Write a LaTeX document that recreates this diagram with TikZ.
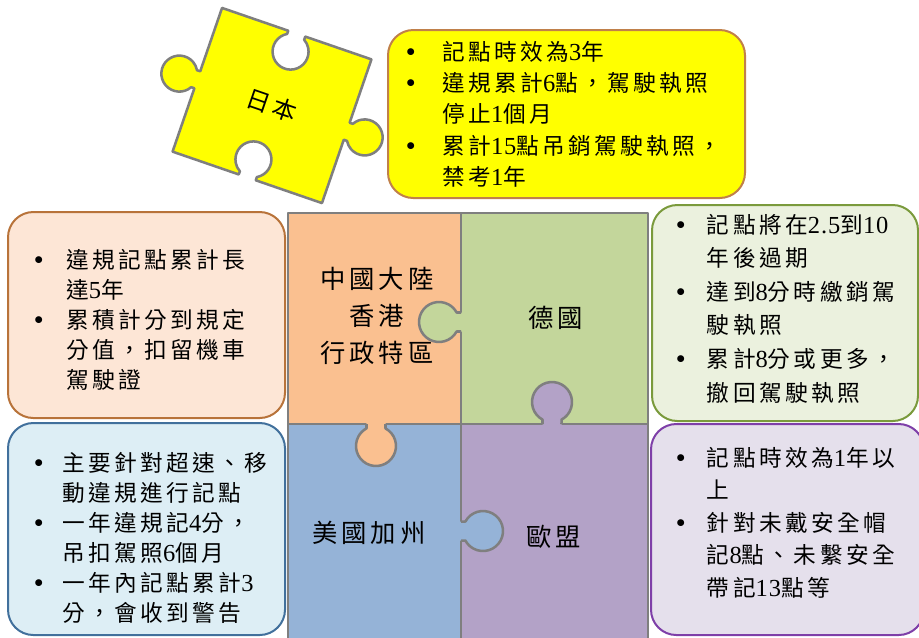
\documentclass[tikz,border=0pt]{standalone}
\usepackage{fontspec}
\setmainfont{Noto Sans CJK TC}[LetterSpace=15]
\newfontfamily\latf{Liberation Serif}[LetterSpace=4,Scale=1.08]
\newfontfamily\bulf{Liberation Serif}
\newcommand\dgt[1]{{\latf #1}}
\newcommand\bl{{\bulf\bfseries\fontsize{19}{19}\selectfont\char"2022}}
\definecolor{pgray}{HTML}{7F7F7F}
\definecolor{porange}{HTML}{FAC090}
\definecolor{pgreen}{HTML}{C3D69B}
\definecolor{pblue}{HTML}{95B3D7}
\definecolor{ppurple}{HTML}{B3A2C7}
\definecolor{pyellow}{HTML}{FFFF00}
\definecolor{yborder}{HTML}{C0804A}
\definecolor{ofill}{HTML}{FDE6D6}
\definecolor{oborder}{HTML}{B8733A}
\definecolor{bfill}{HTML}{DDEEF5}
\definecolor{bborder}{HTML}{41709C}
\definecolor{gfill}{HTML}{EBF1DE}
\definecolor{gborder}{HTML}{7A9A3C}
\definecolor{ufill}{HTML}{E5E0EC}
\definecolor{uborder}{HTML}{7E3FA8}
\tikzset{
  piece/.style={draw=pgray,line width=1.9pt,line join=round},
  infobox/.style={rounded corners=19pt,line width=1.5pt},
  listtext/.style={inner sep=0pt,anchor=base west,text=black},
  label/.style={inner sep=0pt,align=center,font=\fontsize{19}{27.75}\selectfont}
}
\newcommand\knob[4]{%
  \begin{scope}[shift={(#2,#3)},rotate=#4]
    \fill[#1] (-3,-9.5) -- (4.4,-9.5) arc[start angle=-151.6,end angle=151.6,radius=20] -- (-3,9.5) -- cycle;
    \draw[piece] (0,-9.5) -- (4.4,-9.5) arc[start angle=-151.6,end angle=151.6,radius=20] -- (0,9.5);
  \end{scope}}
\begin{document}
\begin{tikzpicture}[x=0.75pt,y=-0.75pt]
\path[use as bounding box] (0,0) rectangle (919,637);
\clip (0,0) rectangle (919,637);

% Japan puzzle piece
\begin{scope}[shift={(272,105.5)},rotate=-19]
  \path[piece,fill=pyellow] (-79,-76) -- (-9,-76) -- (-9,-72.6)
     arc[start angle=240,end angle=-60,radius=18] -- (9,-76) -- (79,-76)
     -- (79,-9) -- (82.4,-9) arc[start angle=-150,end angle=150,radius=18] -- (79,9) -- (79,76)
     -- (9,76) -- (9,72.6) arc[start angle=60,end angle=-240,radius=18] -- (-9,76) -- (-79,76)
     -- (-79,9) -- (-82.4,9) arc[start angle=30,end angle=330,radius=18] -- (-79,-9) -- cycle;
  \node[inner sep=0pt,font=\fontsize{18}{20}\selectfont,rotate=-19] (jpname) at (0,0) {日本};
\end{scope}

% info boxes
\draw[infobox,fill=pyellow,draw=yborder] (388,30) rectangle (745,198);
\draw[infobox,fill=ofill,draw=oborder] (8,212) rectangle (285,418);
\draw[infobox,fill=bfill,draw=bborder] (8,423) rectangle (285,635);
\draw[infobox,fill=gfill,draw=gborder] (652,205) rectangle (918,421);
\draw[infobox,fill=ufill,draw=uborder] (651,424) rectangle (924,635);

% central puzzle
\path[piece,fill=porange] (288,213) rectangle (461,424);
\path[piece,fill=pgreen] (461,213) rectangle (648,424);
\path[piece,fill=pblue] (288,424) rectangle (461,660);
\path[piece,fill=ppurple] (461,424) rectangle (648,660);
\knob{pgreen}{461}{322}{180}
\knob{ppurple}{552}{424}{90}
\knob{porange}{376}{424}{-90}
\knob{pblue}{461}{531}{0}

\node[label] (cn) at (377,316) {中國大陸\\香港\\行政特區};
\node[label] (de) at (556,318) {德國};
\node[label] (us) at (369,533) {美國加州};
\node[label] (eu) at (554,537) {歐盟};

% texts
\node[listtext,font=\fontsize{17}{23.6}\selectfont] (jptext) at (406,60)
 {\begin{tabular}[t]{@{}p{27pt}@{}l@{}}
  \bl & 記點時效為\dgt{3}年\\
  \bl & 違規累計\dgt{6}點，駕駛執照\\
      & 停止\dgt{1}個月\\
  \bl & 累計\dgt{15}點吊銷駕駛執照，\\
      & 禁考\dgt{1}年
  \end{tabular}};
\node[listtext,font=\fontsize{17}{22.5}\selectfont] (cntext) at (34,268)
 {\begin{tabular}[t]{@{}p{24pt}@{}l@{}}
  \bl & 違規記點累計長\\
      & 達\dgt{5}年\\
  \bl & 累積計分到規定\\
      & 分值，扣留機車\\
      & 駕駛證
  \end{tabular}};
\node[listtext,font=\fontsize{17}{22.5}\selectfont] (ustext) at (34,471)
 {\begin{tabular}[t]{@{}p{21pt}@{}l@{}}
  \bl & 主要針對超速、移\\
      & 動違規進行記點\\
  \bl & 一年違規記\dgt{4}分，\\
      & 吊扣駕照\dgt{6}個月\\
  \bl & 一年內記點累計\dgt{3}\\
      & 分，會收到警告
  \end{tabular}};
\node[listtext,font=\fontsize{17}{25.2}\selectfont] (detext) at (676,233)
 {\begin{tabular}[t]{@{}p{23pt}@{}l@{}}
  \bl & 記點將在\dgt{2.5}到\dgt{10}\\
      & 年後過期\\
  \bl & 達到\dgt{8}分時繳銷駕\\
      & 駛執照\\
  \bl & 累計\dgt{8}分或更多，\\
      & 撤回駕駛執照
  \end{tabular}};
\node[listtext,font=\fontsize{17}{24.4}\selectfont] (eutext) at (676,466)
 {\begin{tabular}[t]{@{}p{23pt}@{}l@{}}
  \bl & 記點時效為\dgt{1}年以\\
      & 上\\
  \bl & 針對未戴安全帽\\
      & 記\dgt{8}點、未繫安全\\
      & 帶記\dgt{13}點等
  \end{tabular}};
\end{tikzpicture}
\end{document}
